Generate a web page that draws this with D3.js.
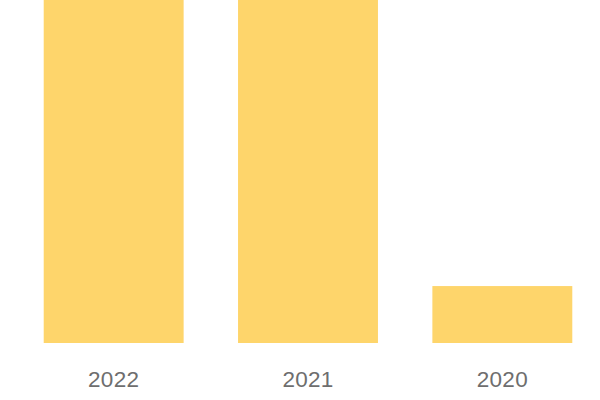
<!DOCTYPE html>
<html lang="en">
<head>
<meta charset="utf-8">
<script src="https://d3js.org/d3.v7.min.js"></script>
<style>
  body { margin: 0; background: #fff; }
  svg text { font-family: "Liberation Sans", Arial, sans-serif; fill: #6e6e6e; }
</style>
</head>
<body>
<div id="vis_container"></div>
<script>
// chart data
var years = ["2022", "2021", "2020"];
var values = [100, 100, 16.6];

var width = 600, height = 400;
var baseY = 343;

var svg = d3.select("#vis_container").append("svg")
    .attr("width", width)
    .attr("height", height);

var x = d3.scaleBand()
    .domain(years)
    .range([16.5, 599.5])
    .paddingInner(0.28)
    .paddingOuter(0.14);

var y = d3.scaleLinear()
    .domain([0, d3.max(values)])
    .range([baseY, 0]);

svg.selectAll(".bar")
    .data(values)
  .enter().append("rect")
    .attr("class", "bar")
    .attr("x", function(d, i) { return x(years[i]); })
    .attr("width", x.bandwidth())
    .attr("y", function(d) { return y(d); })
    .attr("height", function(d) { return baseY - y(d); })
    .attr("fill", "#FED56B");

var xAxis = svg.append("g")
    .attr("transform", "translate(0," + baseY + ")")
    .call(d3.axisBottom(x).tickSize(0).tickPadding(28));
xAxis.select(".domain").remove();
xAxis.selectAll("text")
    .style("font-size", "22.5px")
    .style("letter-spacing", "0.3px")
    .style("fill", "#6e6e6e");
</script>
</body>
</html>
